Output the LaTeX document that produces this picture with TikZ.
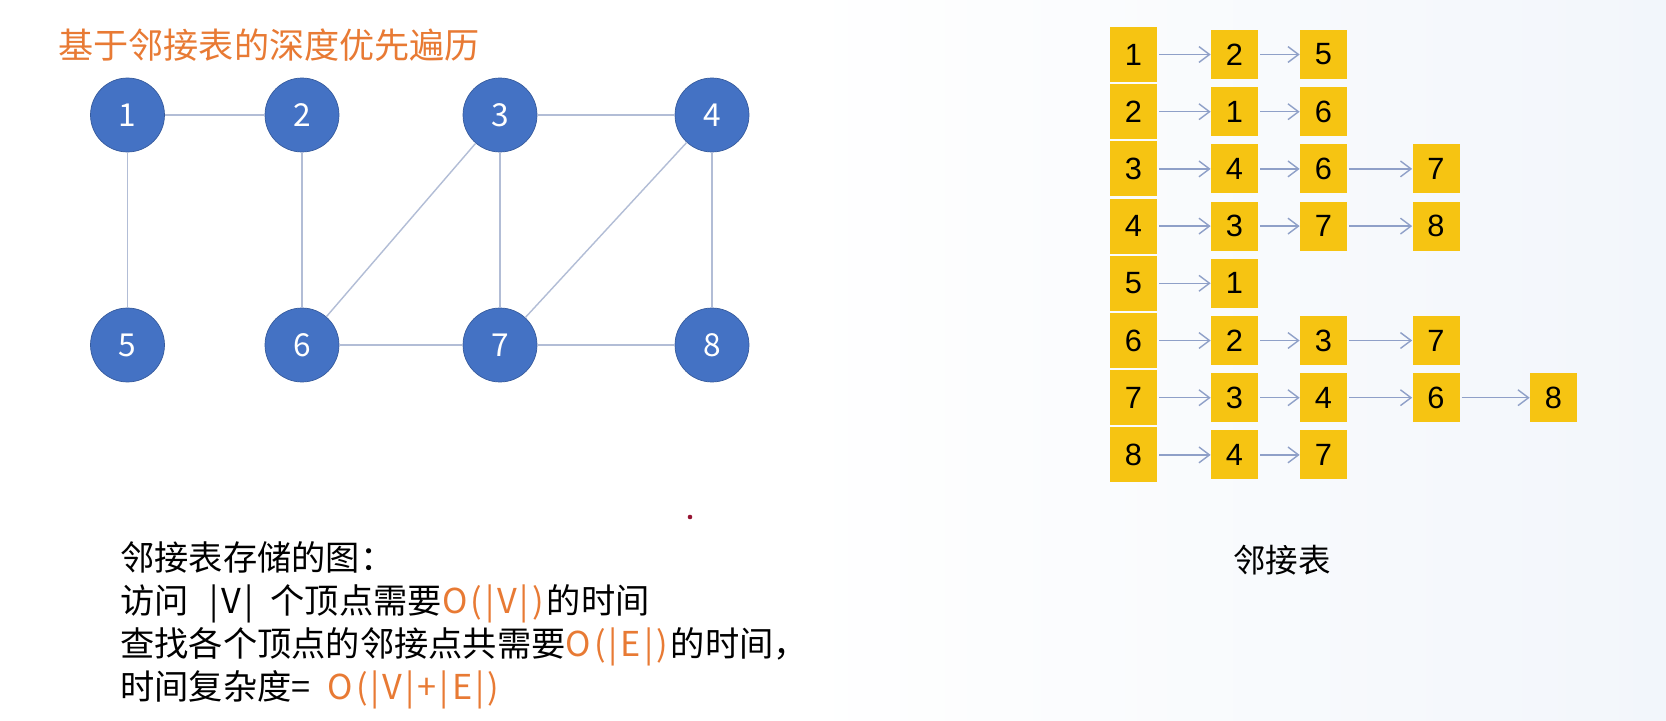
\documentclass[tikz,border=0pt]{standalone}
\usepackage{fontspec}
\setmainfont{Noto Sans CJK SC}
\newfontfamily\digitfont{Liberation Sans}
\usepackage{xcolor}
\usetikzlibrary{arrows.meta,positioning,calc}

\definecolor{titleorange}{RGB}{232,122,52}
\definecolor{nodeblue}{RGB}{68,114,196}
\definecolor{edgegray}{RGB}{178,189,214}
\definecolor{boxgold}{RGB}{246,196,18}
\definecolor{arrowblue}{RGB}{143,160,200}
\definecolor{bgright}{RGB}{242,246,251}
\definecolor{dotred}{RGB}{150,20,50}

% little gap between the glyphs of the complexity terms
\newcommand{\ogap}{\kern1.7pt}

\begin{document}
\begin{tikzpicture}[x=0.02cm, y=-0.02cm,
    vtx/.style={circle, fill=nodeblue, draw=nodeblue!80!black, line width=0.4pt, minimum size=1.48cm, inner sep=0pt, text=white, font=\fontsize{18}{18}\selectfont},
    edge/.style={draw=edgegray, line width=0.8pt},
    head/.style={fill=boxgold, minimum width=0.94cm, minimum height=1.1cm, inner sep=0pt, font=\digitfont\fontsize{17.5}{17.5}\selectfont},
    cell/.style={fill=boxgold, minimum width=0.94cm, minimum height=0.98cm, inner sep=0pt, font=\digitfont\fontsize{17.5}{17.5}\selectfont},
    conn/.style={-{Straight Barb[length=6pt,width=9pt]}, draw=arrowblue, line width=0.8pt, shorten <=1pt},
    txt/.style={anchor=base west, inner sep=0pt, font=\fontsize{19.5}{24}\selectfont},
    hl/.style={text=titleorange}
]
% --- Canvas ---
\useasboundingbox (0,0) rectangle (1666,720);
\fill[white] (0,0) rectangle (1666,720);
\shade[left color=white, right color=bgright] (800,0) rectangle (1666,720);

% --- Title ---
\node[txt, text=titleorange, font=\fontsize{20}{24}\selectfont] (title) at (58,58) {基于邻接表的深度优先遍历};

% --- Graph: vertices ---
\node[vtx] (v1) at (127.5,115) {1};
\node[vtx] (v2) at (302,115)   {2};
\node[vtx] (v3) at (500,115)   {3};
\node[vtx] (v4) at (712,115)   {4};
\node[vtx] (v5) at (127.5,345) {5};
\node[vtx] (v6) at (302,345)   {6};
\node[vtx] (v7) at (500,345)   {7};
\node[vtx] (v8) at (712,345)   {8};

% --- Graph: edges ---
\draw[edge] (v1) -- (v2);
\draw[edge] (v1) -- (v5);
\draw[edge] (v2) -- (v6);
\draw[edge] (v3) -- (v4);
\draw[edge] (v3) -- (v6);
\draw[edge] (v3) -- (v7);
\draw[edge] (v4) -- (v7);
\draw[edge] (v4) -- (v8);
\draw[edge] (v6) -- (v7);
\draw[edge] (v7) -- (v8);

% --- Adjacency list: head column ---
\node[head] (h1) at (1133.5,54.5)  {1};
\node[head] (h2) at (1133.5,111.7) {2};
\node[head] (h3) at (1133.5,168.9) {3};
\node[head] (h4) at (1133.5,226.1) {4};
\node[head] (h5) at (1133.5,283.3) {5};
\node[head] (h6) at (1133.5,340.5) {6};
\node[head] (h7) at (1133.5,397.7) {7};
\node[head] (h8) at (1133.5,454.9) {8};

% --- Adjacency list: neighbour cells ---
\node[cell] (a12) at (1234.5,54.5)  {2};
\node[cell] (a13) at (1323.5,54.5)  {5};
\node[cell] (a22) at (1234.5,111.7) {1};
\node[cell] (a23) at (1323.5,111.7) {6};
\node[cell] (a32) at (1234.5,168.9) {4};
\node[cell] (a33) at (1323.5,168.9) {6};
\node[cell] (a34) at (1436,168.9)   {7};
\node[cell] (a42) at (1234.5,226.1) {3};
\node[cell] (a43) at (1323.5,226.1) {7};
\node[cell] (a44) at (1436,226.1)   {8};
\node[cell] (a52) at (1234.5,283.3) {1};
\node[cell] (a62) at (1234.5,340.5) {2};
\node[cell] (a63) at (1323.5,340.5) {3};
\node[cell] (a64) at (1436,340.5)   {7};
\node[cell] (a72) at (1234.5,397.7) {3};
\node[cell] (a73) at (1323.5,397.7) {4};
\node[cell] (a74) at (1436,397.7)   {6};
\node[cell] (a75) at (1553.5,397.7) {8};
\node[cell] (a82) at (1234.5,454.9) {4};
\node[cell] (a83) at (1323.5,454.9) {7};

% --- Adjacency list: pointers ---
\draw[conn] (h1) -- (a12);  \draw[conn] (a12) -- (a13);
\draw[conn] (h2) -- (a22);  \draw[conn] (a22) -- (a23);
\draw[conn] (h3) -- (a32);  \draw[conn] (a32) -- (a33);  \draw[conn] (a33) -- (a34);
\draw[conn] (h4) -- (a42);  \draw[conn] (a42) -- (a43);  \draw[conn] (a43) -- (a44);
\draw[conn] (h5) -- (a52);
\draw[conn] (h6) -- (a62);  \draw[conn] (a62) -- (a63);  \draw[conn] (a63) -- (a64);
\draw[conn] (h7) -- (a72);  \draw[conn] (a72) -- (a73);  \draw[conn] (a73) -- (a74);  \draw[conn] (a74) -- (a75);
\draw[conn] (h8) -- (a82);  \draw[conn] (a82) -- (a83);

\node[font=\fontsize{18.5}{18.5}\selectfont] (cap) at (1282,560) {邻接表};

% --- Cost notes ---
\node[txt] (l1) at (120,570) {邻接表存储的图：};
\node[txt] (l2) at (120,613) {访问\hspace{0.6em}|\ogap V\ogap|\hspace{0.5em}个顶点需要\textcolor{titleorange}{O\ogap(\ogap|\ogap V\ogap|\ogap)}\ogap 的时间};
\node[txt] (l3) at (120,656) {查找各个顶点的邻接点共需要\textcolor{titleorange}{O\ogap(\ogap|\ogap E\ogap|\ogap)}\ogap 的时间，};
\node[txt] (l4) at (120,699) {时间复杂度=\hspace{0.5em}\textcolor{titleorange}{O\ogap(\ogap|\ogap V\ogap|\ogap+\ogap|\ogap E\ogap|\ogap)}};

% stray dot
\fill[dotred] (690,517) circle (1.3pt);
\end{tikzpicture}
\end{document}
